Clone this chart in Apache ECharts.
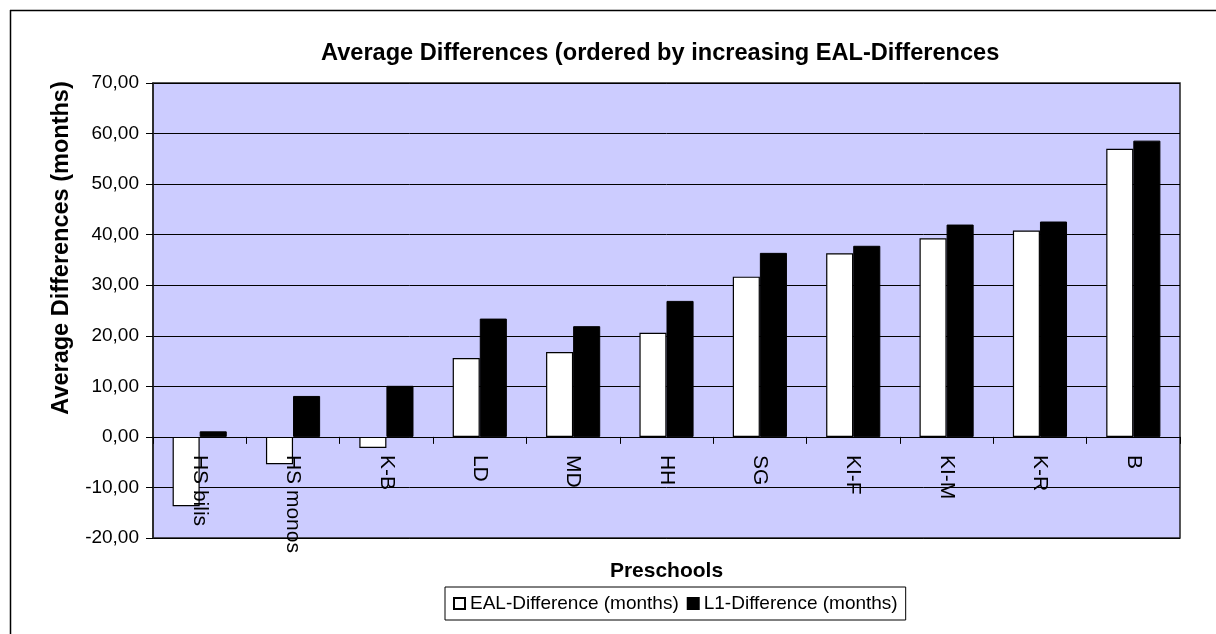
<!DOCTYPE html>
<html>
<head>
<meta charset="utf-8">
<script src="https://cdn.jsdelivr.net/npm/echarts@6/dist/echarts.min.js"></script>
<style>
html,body{margin:0;padding:0;background:#fff;}
#c{width:1216px;height:634px;}
</style>
</head>
<body>
<div id="c"></div>
<script>
const categories = ["HS bilis","HS monos","K-B","LD","MD","HH","SG","KI-F","KI-M","K-R","B"];
const ealDiff = [-13.7, -5.4, -2.2, 15.6, 16.8, 20.6, 31.7, 36.3, 39.3, 40.8, 57.0];
const l1Diff = [1.1, 8.1, 10.1, 23.4, 21.9, 26.9, 36.4, 37.8, 42.0, 42.6, 58.6];
const seriesNames = ["EAL-Difference (months)", "L1-Difference (months)"];
const yTicks = {min: -20, max: 70, interval: 10};
const yAxisTitle = 'Average Differences (months)';

const FONT = "Arial, 'Liberation Sans', sans-serif";
const GRID_TOP = 83, GRID_BOTTOM = 96, H = 634;
const plotH = H - GRID_TOP - GRID_BOTTOM;
// distance of the zero line above the plot bottom, derived from the axis range
const zeroOffset = plotH * (0 - yTicks.min) / (yTicks.max - yTicks.min);

const chart = echarts.init(document.getElementById('c'), null, {renderer: 'canvas'});
chart.setOption({
  animation: false,
  backgroundColor: '#ffffff',
  title: {
    text: 'Average Differences (ordered by increasing EAL-Differences',
    left: 316, top: 36,
    textStyle: {fontFamily: FONT, fontSize: 23.6, fontWeight: 'bold', color: '#000'}
  },
  graphic: [
    {type: 'line', shape: {x1: 10, y1: 10.5, x2: 1216, y2: 10.5}, style: {stroke: '#000', lineWidth: 1.5}},
    {type: 'line', shape: {x1: 10.5, y1: 10, x2: 10.5, y2: 634}, style: {stroke: '#000', lineWidth: 1.5}},
    {
      type: 'text', x: 62, y: 248, rotation: Math.PI / 2,
      style: {
        text: yAxisTitle, align: 'center', verticalAlign: 'middle',
        font: "bold 23.5px Arial, 'Liberation Sans', sans-serif", fill: '#000'
      }
    }
  ],
  legend: {
    left: 445, top: 587,
    icon: 'rect',
    itemWidth: 11, itemHeight: 11, itemGap: 8,
    padding: [7, 8, 7, 8],
    borderColor: '#000', borderWidth: 1,
    textStyle: {fontFamily: FONT, fontSize: 19, color: '#000'},
    data: seriesNames
  },
  grid: {
    left: 153, right: 36, top: GRID_TOP, bottom: GRID_BOTTOM,
    containLabel: false, outerBoundsMode: 'none',
    show: true, backgroundColor: '#CCCCFF', borderColor: '#222', borderWidth: 1.5
  },
  xAxis: {
    type: 'category',
    data: categories,
    z: 5,
    offset: -zeroOffset,
    name: 'Preschools',
    nameLocation: 'middle',
    nameGap: 112,
    nameTextStyle: {fontFamily: FONT, fontSize: 21, fontWeight: 'bold', color: '#000'},
    axisLine: {onZero: false, lineStyle: {color: '#000', width: 1}},
    axisTick: {show: true, length: 7, lineStyle: {color: '#000'}},
    axisLabel: {
      interval: 0, rotate: -90, margin: 18,
      fontFamily: FONT, fontSize: 21, color: '#000'
    }
  },
  yAxis: {
    type: 'value',
    min: yTicks.min, max: yTicks.max, interval: yTicks.interval,
    axisLine: {show: true, lineStyle: {color: '#222', width: 1.5}},
    axisTick: {show: true, length: 7, lineStyle: {color: '#000'}},
    splitLine: {show: true, lineStyle: {color: '#000', width: 1}},
    axisLabel: {
      margin: 14,
      fontFamily: FONT, fontSize: 19, color: '#000',
      formatter: v => v.toFixed(2).replace('.', ',')
    }
  },
  series: [
    {
      name: seriesNames[0], type: 'bar', data: ealDiff,
      barGap: '0%', barCategoryGap: '42%',
      itemStyle: {color: '#ffffff', borderColor: '#000', borderWidth: 1.2}
    },
    {
      name: seriesNames[1], type: 'bar', data: l1Diff,
      barGap: '0%', barCategoryGap: '42%',
      itemStyle: {color: '#000000', borderColor: '#000', borderWidth: 1}
    }
  ]
});
</script>
</body>
</html>
